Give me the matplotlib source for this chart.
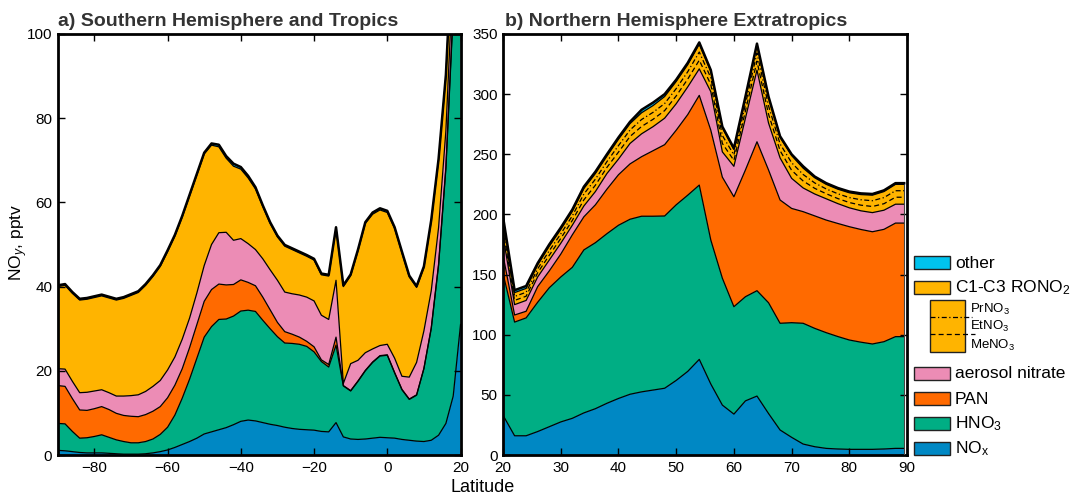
import numpy as np
import matplotlib
matplotlib.use('Agg')
from matplotlib import pyplot as plt
from matplotlib.patches import Rectangle

plt.rcParams['font.family'] = ['Liberation Sans', 'DejaVu Sans']
plt.rcParams['mathtext.fontset'] = 'custom'
plt.rcParams['mathtext.rm'] = 'Liberation Sans'
plt.rcParams['mathtext.it'] = 'Liberation Sans:italic'
plt.rcParams['mathtext.bf'] = 'Liberation Sans:bold'

# ---- panel a: Southern Hemisphere and Tropics (pptv per species) ----
lat_a = [-90, -88, -86, -84, -82, -80, -78, -76, -74, -72,
         -70, -68, -66, -64, -62, -60, -58, -56, -54, -52,
         -50, -48, -46, -44, -42, -40, -38, -36, -34, -32,
         -30, -28, -26, -24, -22, -20, -18, -16, -14, -12,
         -10, -8, -6, -4, -2, 0, 2, 4, 6, 8,
         10, 12, 14, 16, 18, 20]
nox_a = [1.1, 1.0, 0.8, 0.6, 0.5, 0.5, 0.5, 0.4, 0.3, 0.2,
         0.2, 0.2, 0.3, 0.5, 0.8, 1.2, 1.8, 2.5, 3.2, 4.0,
         5.0, 5.5, 6.0, 6.5, 7.2, 8.0, 8.3, 8.1, 7.7, 7.3,
         7.0, 6.6, 6.3, 6.1, 6.0, 5.9, 5.6, 5.5, 7.7, 4.3,
         3.8, 3.7, 3.8, 4.0, 4.2, 4.1, 4.0, 3.7, 3.5, 3.3,
         3.2, 3.5, 4.7, 7.5, 14.0, 31.0]
hno3_a = [6.4, 6.4, 4.8, 3.4, 3.6, 3.9, 4.3, 3.8, 3.3, 3.0,
          2.7, 2.7, 2.9, 3.3, 4.1, 5.4, 7.7, 11.0, 14.8, 19.0,
          23.0, 25.0, 26.2, 25.8, 25.8, 26.2, 26.1, 26.0, 24.3, 22.7,
          21.1, 20.0, 20.2, 20.2, 19.8, 18.6, 16.6, 15.4, 18.4, 12.1,
          11.4, 13.8, 16.2, 18.0, 19.3, 19.6, 15.5, 11.8, 9.7, 10.9,
          17.3, 26.5, 40.3, 60.5, 91.0, 119.0]
pan_a = [9.0, 8.9, 7.8, 6.7, 6.5, 6.6, 6.7, 6.6, 6.3, 6.2,
         6.3, 6.2, 6.4, 6.6, 6.6, 7.0, 7.1, 7.0, 7.5, 8.0,
         8.5, 8.8, 8.4, 8.1, 7.5, 7.4, 6.6, 6.1, 5.5, 4.5,
         3.4, 2.7, 2.2, 1.7, 1.2, 1.2, 0.4, 0.6, 1.9, 0.1,
         0.1, 0.1, 0.1, 0.1, 0.1, 0.1, 0.1, 0.1, 0.1, 0.1,
         0.1, 0.2, 0.3, 0.4, 1.0, 15.0]
aer_a = [4.0, 4.1, 4.1, 4.1, 4.3, 4.2, 4.0, 4.0, 4.1, 4.6,
         4.9, 5.2, 5.5, 5.9, 6.2, 6.6, 6.7, 7.0, 7.0, 7.5,
         8.5, 10.7, 12.2, 12.5, 10.5, 9.8, 9.2, 8.6, 9.1, 9.5,
         10.0, 9.4, 9.6, 10.0, 10.5, 10.9, 10.6, 10.7, 13.5, 0.5,
         6.4, 4.9, 4.2, 3.1, 2.4, 2.5, 3.4, 3.1, 5.2, 7.7,
         8.9, 8.8, 8.7, 8.6, 9.0, 15.0]
rono2_a = [19.5, 19.9, 20.9, 22.0, 22.1, 22.2, 22.3, 22.5, 22.8, 23.2,
           23.8, 24.3, 25.2, 26.1, 27.1, 28.1, 28.7, 29.0, 29.0, 28.0,
           26.5, 23.6, 20.4, 17.6, 17.6, 16.5, 15.6, 14.4, 12.4, 11.0,
           10.3, 10.9, 10.5, 10.0, 9.7, 9.7, 9.6, 10.3, 12.3, 23.0,
           20.9, 26.0, 30.7, 32.0, 32.2, 31.3, 30.8, 29.3, 23.8, 17.8,
           15.0, 16.5, 16.0, 13.0, 10.0, 17.0]
other_a = [0.3, 0.3, 0.3, 0.3, 0.3, 0.3, 0.3, 0.3, 0.3, 0.3,
           0.3, 0.3, 0.3, 0.3, 0.3, 0.3, 0.3, 0.3, 0.3, 0.3,
           0.3, 0.4, 0.5, 0.5, 0.6, 0.5, 0.5, 0.4, 0.3, 0.3,
           0.3, 0.3, 0.3, 0.3, 0.3, 0.3, 0.3, 0.3, 0.3, 0.3,
           0.3, 0.3, 0.3, 0.4, 0.4, 0.4, 0.3, 0.3, 0.3, 0.3,
           0.3, 0.3, 0.3, 0.3, 0.5, 1.0]

# ---- panel b: Northern Hemisphere Extratropics ----
lat_b = [20, 22, 24, 26, 28, 30, 32, 34, 36, 38,
         40, 42, 44, 46, 48, 50, 52, 54, 56, 58,
         60, 62, 64, 66, 68, 70, 72, 74, 76, 78,
         80, 82, 84, 86, 88, 89.5]
nox_b = [33, 16, 16, 19.5, 23.5, 27.5, 30.5, 35, 38.5, 43,
         47, 50.5, 52.5, 54, 55.5, 62, 69.5, 79.5, 59, 41.5,
         34, 45, 49, 34.5, 20.8, 14.7, 9.1, 6.9, 5.5, 5.0,
         4.7, 4.7, 4.7, 5.0, 5.5, 5.5]
hno3_b = [117.8, 94.5, 98, 107.5, 115.5, 120.5, 125.5, 135.5, 138, 141,
          144, 145.5, 146, 144.5, 143.2, 146, 146.5, 144.9, 119.7, 105.5,
          89.3, 86.6, 87.6, 92.1, 88.7, 95.3, 100.4, 98.4, 96.2, 93.5,
          90.9, 89.1, 87.6, 89.2, 92.9, 92.9]
pan_b = [15.2, 5.9, 5.5, 13, 14, 19, 27, 27.5, 31.5, 37,
         42, 46, 49.5, 54.5, 59.3, 62, 67, 74.6, 91.3, 84,
         91.4, 105.4, 123.8, 110.4, 102.5, 95, 92.8, 93.5, 93.6, 94,
         94.2, 93.7, 93.3, 93.4, 94.4, 94.4]
aer_b = [16, 8.6, 9, 8, 9, 9, 8, 9, 11, 13,
         13, 17, 19, 20, 22, 22, 23, 22, 32, 21,
         25.3, 43, 59.6, 39, 35, 25, 19.7, 18.2, 17.7, 16.5,
         15.7, 15.5, 15.9, 15.9, 15.7, 15.7]
meno3_b = [5.3, 3.5, 3.5, 3.5, 4.0, 4.0, 4.0, 5.1, 5.3, 5.1,
           5.8, 5.8, 6.1, 6.1, 6.3, 6.5, 6.5, 7.2, 6.0, 7.0,
           4.9, 6.0, 7.4, 7.4, 6.0, 6.7, 5.8, 4.7, 4.2, 4.2,
           4.4, 4.7, 5.1, 5.4, 5.8, 5.8]
etno3_b = [5.0, 3.3, 3.3, 3.3, 3.8, 3.8, 3.8, 4.8, 5.0, 4.8,
           5.4, 5.4, 5.8, 5.8, 5.9, 6.1, 6.1, 6.8, 5.6, 6.6,
           4.6, 5.6, 6.9, 6.9, 5.6, 6.3, 5.4, 4.5, 4.0, 4.0,
           4.1, 4.5, 4.8, 5.1, 5.4, 5.4]
prno3_b = [4.7, 3.2, 3.2, 3.2, 3.7, 3.7, 3.7, 4.6, 4.7, 4.6,
           5.3, 5.3, 5.6, 5.6, 5.8, 5.9, 5.9, 6.5, 5.4, 6.4,
           4.5, 5.4, 6.7, 6.7, 5.4, 6.0, 5.3, 4.3, 3.8, 3.8,
           4.0, 4.3, 4.6, 5.0, 5.3, 5.3]
other_b = [1, 2, 2, 1.5, 1.5, 1.5, 1.5, 1.5, 1.5, 1.5,
           1.5, 1.5, 2.5, 2.5, 2, 1.5, 1.5, 1.5, 1, 1,
           1, 1, 1, 1, 1, 1, 1.5, 1, 1, 1,
           1, 1, 1, 1, 1, 1]

c_nox = '#0088c4'
c_hno3 = '#00ae84'
c_pan = '#ff6a00'
c_aer = '#ec8cb5'
c_rono2 = '#ffb400'
c_other = '#00c3ee'
cols = [c_nox, c_hno3, c_pan, c_aer, c_rono2, c_other]


def draw_stack(ax, lat, layers):
    lat = np.asarray(lat, float)
    base = np.zeros(len(lat))
    tops = []
    for vals, col in zip(layers, cols):
        top = base + np.asarray(vals, float)
        ax.fill_between(lat, base, top, facecolor=col, edgecolor='none', zorder=1)
        tops.append(top)
        base = top
    for top in tops[:-1]:
        ax.plot(lat, top, color='k', lw=0.9, zorder=3)
    ax.plot(lat, tops[-1], color='k', lw=1.8, zorder=4)
    return tops


def style_axis(ax):
    ax.tick_params(direction='in', top=True, right=True, length=5, width=1,
                   labelsize=11, pad=4)
    for sp in ax.spines.values():
        sp.set_linewidth(2)


fig = plt.figure(figsize=(10.71, 4.97), dpi=100)
ax_a = fig.add_axes([0.0539, 0.0845, 0.3761, 0.8471])
ax_b = fig.add_axes([0.4697, 0.0845, 0.3772, 0.8471])

# panel a
draw_stack(ax_a, lat_a, [nox_a, hno3_a, pan_a, aer_a, rono2_a, other_a])
ax_a.set_xlim(-90, 20)
ax_a.set_ylim(0, 100)
ax_a.set_xticks([-80, -60, -40, -20, 0, 20])
ax_a.set_yticks([0, 20, 40, 60, 80, 100])
style_axis(ax_a)

# panel b, RONO2 band with the MeNO3 / EtNO3 split lines
rono2_b = np.array(meno3_b) + np.array(etno3_b) + np.array(prno3_b)
tops_b = draw_stack(ax_b, lat_b, [nox_b, hno3_b, pan_b, aer_b, rono2_b, other_b])
me_top = tops_b[3] + np.array(meno3_b)
et_top = me_top + np.array(etno3_b)
ax_b.plot(lat_b, me_top, color='k', lw=0.9, ls=(0, (4, 2.5)), zorder=3)
ax_b.plot(lat_b, et_top, color='k', lw=0.9, ls=(0, (4, 2, 1, 2)), zorder=3)
ax_b.vlines(lat_b[-1], 0, tops_b[-1][-1], color='#444444', lw=0.8, zorder=3)
ax_b.set_xlim(20, 90)
ax_b.set_ylim(0, 350)
ax_b.set_xticks([20, 30, 40, 50, 60, 70, 80, 90])
ax_b.set_yticks([0, 50, 100, 150, 200, 250, 300, 350])
style_axis(ax_b)

# titles and labels
fig.text(58 / 1071, 1 - 26 / 497, 'a) Southern Hemisphere and Tropics',
         fontsize=14, fontweight='bold', color='#333333', va='baseline')
fig.text(505 / 1071, 1 - 26 / 497, 'b) Northern Hemisphere Extratropics',
         fontsize=14, fontweight='bold', color='#333333', va='baseline')
fig.text(483 / 1071, 1 - 488 / 497, 'Latitude', fontsize=13,
         ha='center', va='center')
fig.text(19 / 1071, 1 - 242 / 497, r'NO$_{\mathit{y}}$, pptv', fontsize=12.5,
         ha='center', va='center', rotation=90)

# legend drawn in pixel coordinates
lg = fig.add_axes([0, 0, 1, 1])
lg.set_xlim(0, 1071)
lg.set_ylim(497, 0)
lg.axis('off')
lg.patch.set_alpha(0)

entries = [('other', c_other, 256),
           ('C1-C3 RONO$_2$', c_rono2, 281),
           ('aerosol nitrate', c_aer, 367),
           ('PAN', c_pan, 392),
           ('HNO$_3$', c_hno3, 417),
           ('NO$_\\mathregular{x}$', c_nox, 442)]
for label, col, y in entries:
    lg.add_patch(Rectangle((914, y), 36, 13, facecolor=col, edgecolor='#222222', lw=1))
    lg.text(955, y + 7, label, fontsize=12.5, va='center', ha='left')

lg.add_patch(Rectangle((930, 300), 35, 52, facecolor=c_rono2, edgecolor='#222222', lw=1))
lg.plot([930, 972], [317, 317], color='k', lw=0.9, ls=(0, (4, 2, 1, 2)))
lg.plot([930, 975], [334, 334], color='k', lw=0.9, ls=(0, (4, 2.5)))
lg.text(970, 309, 'PrNO$_3$', fontsize=9.5, va='center')
lg.text(970, 326, 'EtNO$_3$', fontsize=9.5, va='center')
lg.text(970, 345, 'MeNO$_3$', fontsize=9.5, va='center')

fig.savefig('out.png', dpi=100)
